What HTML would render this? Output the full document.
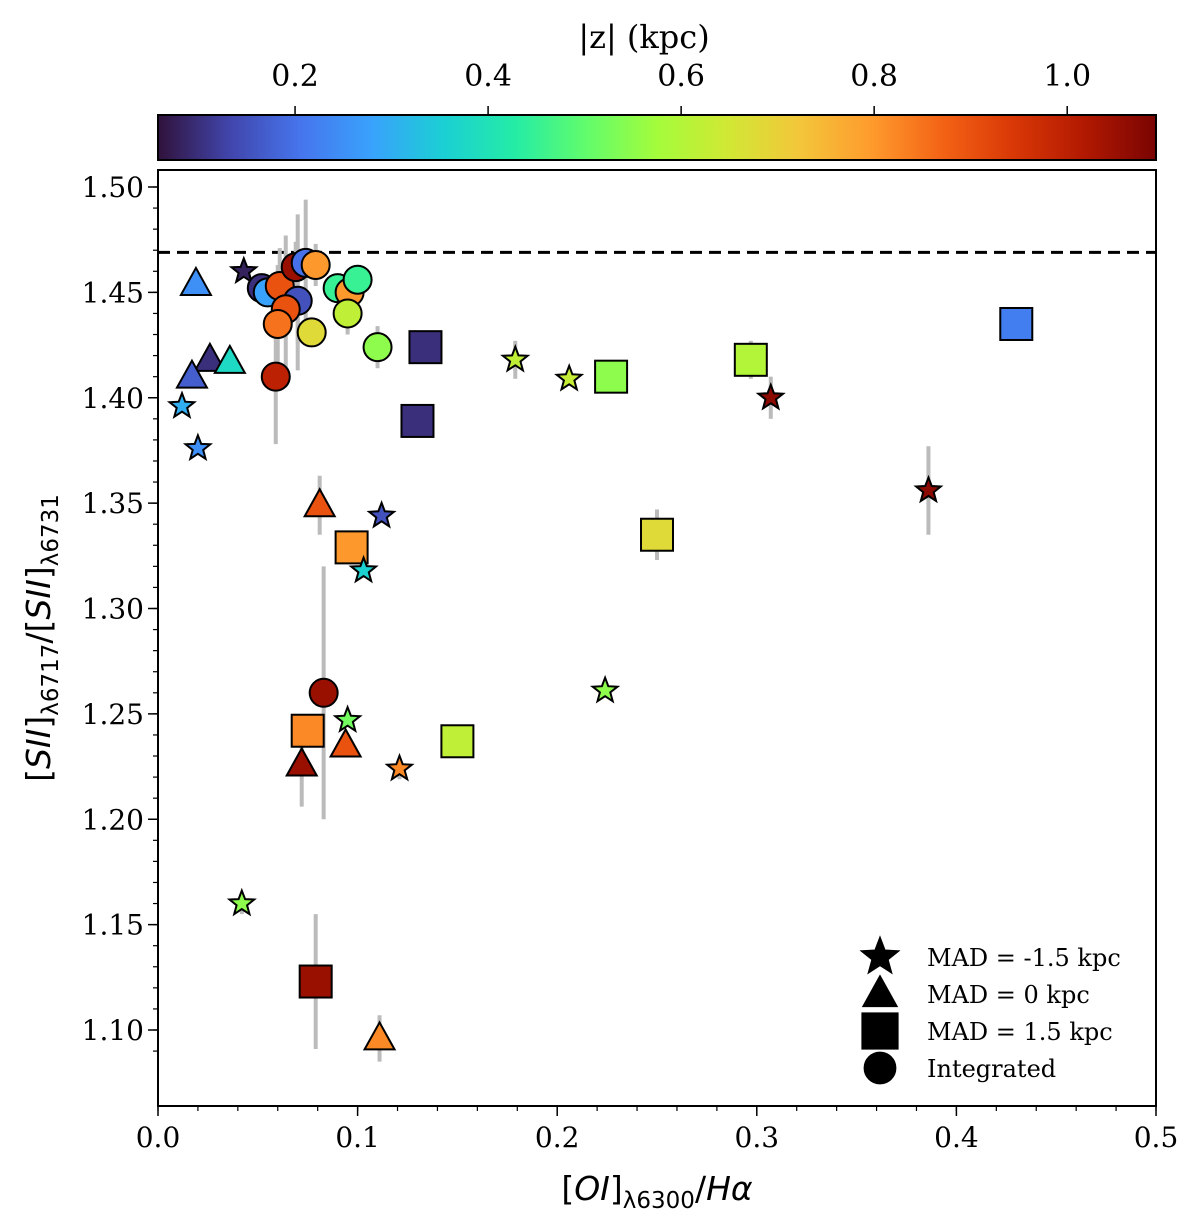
<!DOCTYPE html>
<html><head><meta charset="utf-8"><style>
html,body{margin:0;padding:0;background:#fff}
svg{display:block;font-family:"DejaVu Serif","Liberation Serif",serif}
</style></head><body>
<svg id="chart" width="1200" height="1221" viewBox="0 0 1200 1221" xmlns="http://www.w3.org/2000/svg">
<defs>
<linearGradient id="turbo" x1="0" x2="1" y1="0" y2="0"></linearGradient>
</defs>
<g id="cbar"></g>
<g id="plot"></g>
</svg>
<script>
// ---- data ----
const circX=[0.052,0.055,0.061,0.069,0.074,0.079,0.070,0.064,0.060,0.077,0.090,0.096,0.100,0.095,0.110,0.059,0.083];
const circY=[1.452,1.450,1.453,1.462,1.464,1.463,1.446,1.442,1.435,1.431,1.452,1.450,1.456,1.440,1.424,1.410,1.260];
const circZ=[0.10,0.28,0.90,1.05,0.20,0.80,0.15,0.90,0.85,0.68,0.45,0.80,0.45,0.62,0.55,1.00,1.05];
const circE=[0,0,0.018,0.012,0.03,0.01,0.02,0.035,0.028,0,0,0,0,0.01,0.01,0.032,0.06];
const triX=[0.019,0.026,0.036,0.017,0.081,0.072,0.094,0.111];
const triY=[1.454,1.418,1.417,1.410,1.349,1.226,1.235,1.096];
const triZ=[0.25,0.10,0.38,0.17,0.90,1.05,0.90,0.82];
const triE=[0,0,0,0,0.014,0.02,0,0.011];
const sqX=[0.134,0.130,0.227,0.297,0.430,0.250,0.097,0.075,0.150,0.079];
const sqY=[1.424,1.389,1.410,1.418,1.435,1.335,1.329,1.242,1.237,1.123];
const sqZ=[0.10,0.10,0.55,0.60,0.22,0.68,0.80,0.82,0.62,1.05];
const sqE=[0,0,0,0.009,0,0.012,0,0,0,0.032];
const stX=[0.043,0.012,0.020,0.179,0.206,0.307,0.386,0.112,0.103,0.095,0.121,0.224,0.042];
const stY=[1.460,1.396,1.376,1.418,1.409,1.400,1.356,1.344,1.318,1.247,1.224,1.261,1.160];
const stZ=[0.08,0.30,0.25,0.62,0.63,1.07,1.07,0.15,0.36,0.52,0.82,0.55,0.55];
const stE=[0,0,0,0.009,0,0.01,0.021,0,0,0,0.005,0,0.005];
const extraErrX=[0.070];
const extraErrLo=[1.413]; const extraErrHi=[1.487];
const xTicks=[0.0,0.1,0.2,0.3,0.4,0.5];
const yTicks=[1.10,1.15,1.20,1.25,1.30,1.35,1.40,1.45,1.50];
const zTicks=[0.2,0.4,0.6,0.8,1.0];
const refLine=1.469;
// ---- axes ----
const L=158,R=1156,T=170,B=1106;
const X=v=>L+v/0.5*(R-L);
const Y=v=>187+(1.50-v)/0.40*(1030-187);
const ZMIN=0.058,ZMAX=1.092;
const Zx=z=>L+(z-ZMIN)/(ZMAX-ZMIN)*(R-L);
const turbo=[[48,18,59],[65,69,171],[70,117,237],[57,162,252],[27,207,212],[36,236,166],[97,252,108],[164,252,59],[209,232,52],[243,198,58],[254,155,45],[243,99,21],[217,56,6],[177,25,1],[122,4,2]];
function col(z){let t=(z-ZMIN)/(ZMAX-ZMIN);t=Math.max(0,Math.min(1,t));const p=t*(turbo.length-1);const i=Math.min(Math.floor(p),turbo.length-2);const f=p-i;const c=turbo[i].map((a,k)=>Math.round(a+(turbo[i+1][k]-a)*f));return `rgb(${c})`;}
const NS="http://www.w3.org/2000/svg";
function mk(tag,attrs,parent){const e=document.createElementNS(NS,tag);for(const k in attrs)e.setAttribute(k,attrs[k]);parent.appendChild(e);return e;}
const grad=document.getElementById('turbo');
turbo.forEach((c,i)=>mk('stop',{offset:(i/(turbo.length-1)),'stop-color':`rgb(${c})`},grad));
const cb=document.getElementById('cbar');
const cr=mk('rect',{x:L,y:115,width:R-L,height:45,fill:'url(#turbo)',stroke:'#000','stroke-width':2},cb);


zTicks.forEach(z=>{mk('line',{x1:Zx(z),x2:Zx(z),y1:115,y2:106,stroke:'#000','stroke-width':1.5},cb);
const t=mk('text',{x:Zx(z),y:86,'font-size':30,'text-anchor':'middle'},cb);t.textContent=z.toFixed(1);

});
const ct=mk('text',{x:(L+R)/2-13,y:48,'font-size':32,'text-anchor':'middle'},cb);ct.textContent='|z| (kpc)';


const g=document.getElementById('plot');
for(let v=0;v<=0.5001;v+=0.02){const x=X(v);mk('line',{x1:x,x2:x,y1:B,y2:B+5,stroke:'#000','stroke-width':1.2},g);}
xTicks.forEach(v=>{mk('line',{x1:X(v),x2:X(v),y1:B,y2:B+10,stroke:'#000','stroke-width':1.5},g);
const t=mk('text',{x:X(v),y:B+41,'font-size':28,'text-anchor':'middle'},g);t.textContent=v.toFixed(1);

});
for(let v=1.09;v<=1.505;v+=0.01){const y=Y(v);if(y<T||y>B)continue;mk('line',{x1:L,x2:L-5,y1:y,y2:y,stroke:'#000','stroke-width':1.2},g);}
yTicks.forEach(v=>{mk('line',{x1:L,x2:L-10,y1:Y(v),y2:Y(v),stroke:'#000','stroke-width':1.5},g);
const t=mk('text',{x:L-14,y:Y(v)+10,'font-size':28,'text-anchor':'end'},g);t.textContent=v.toFixed(2);

});
const xl=mk('text',{x:(L+R)/2,y:1200,'font-size':33,'text-anchor':'middle','font-family':'"DejaVu Sans","Liberation Sans",sans-serif'},g);
xl.innerHTML='[<tspan font-style="italic">OI</tspan>]<tspan font-size="23" dy="8">λ6300</tspan><tspan dy="-8">/</tspan><tspan font-style="italic">Hα</tspan>';


const yl=mk('text',{x:0,y:0,'font-size':33,'text-anchor':'middle','transform':`translate(50,${(T+B)/2}) rotate(-90)`,'font-family':'"DejaVu Sans","Liberation Sans",sans-serif'},g);
yl.innerHTML='[<tspan font-style="italic">SII</tspan>]<tspan font-size="23" dy="8">λ6717</tspan><tspan dy="-8">/[</tspan><tspan font-style="italic">SII</tspan>]<tspan font-size="23" dy="8">λ6731</tspan>';


const rl=mk('line',{x1:L,x2:R,y1:Y(refLine),y2:Y(refLine),stroke:'#000','stroke-width':3,'stroke-dasharray':'12,7'},g);


const eg=mk('g',{},g);


function err(xs,ys,es){xs.forEach((x,i)=>{if(es[i]>0)mk('line',{x1:X(x),x2:X(x),y1:Y(ys[i]-es[i]),y2:Y(ys[i]+es[i]),stroke:'#bbb','stroke-width':4},eg);});}
err(circX,circY,circE);err(triX,triY,triE);err(sqX,sqY,sqE);err(stX,stY,stE);
extraErrX.forEach((x,i)=>mk('line',{x1:X(x),x2:X(x),y1:Y(extraErrLo[i]),y2:Y(extraErrHi[i]),stroke:'#bbb','stroke-width':4},eg));
function starPts(cx,cy,ro,ri){let p=[];for(let k=0;k<10;k++){const a=-Math.PI/2+k*Math.PI/5;const r=k%2?ri:ro;p.push((cx+r*Math.cos(a)).toFixed(1)+','+(cy+r*Math.sin(a)).toFixed(1));}return p.join(' ');}
function draw(shape,cx,cy,fill,parent,s){s=s||1;let e;
if(shape==='circle')e=mk('circle',{cx,cy,r:14*s,fill},parent);
else if(shape==='square')e=mk('rect',{x:cx-16*s,y:cy-16*s,width:32*s,height:32*s,fill},parent);
else if(shape==='tri')e=mk('polygon',{points:`${cx},${cy-16*s} ${cx-15*s},${cy+11*s} ${cx+15*s},${cy+11*s}`,fill},parent);
else e=mk('polygon',{points:starPts(cx,cy,13*s,5.5*s),fill},parent);
e.setAttribute('stroke','#000');e.setAttribute('stroke-width',2);return e;}
function series(name,shape,xs,ys,zs){const sg=mk('g',{},g);


xs.forEach((x,i)=>{const e=draw(shape,X(x),Y(ys[i]),col(zs[i]),sg);

});}
series('squares-mad-1.5','square',sqX,sqY,sqZ);
series('triangles-mad-0','tri',triX,triY,triZ);
series('stars-mad-minus-1.5','star',stX,stY,stZ);
series('circles-integrated','circle',circX,circY,circZ);
const lg=mk('g',{},g);


const legS=['star','tri','square','circle'];const legT=['MAD = -1.5 kpc','MAD = 0 kpc','MAD = 1.5 kpc','Integrated'];
legS.forEach((s,i)=>{const y=957+i*37;draw(s,880,y,'#000',lg,s==='star'?1.45:1.1);
const t=mk('text',{x:927,y:y+9,'font-size':24},lg);t.textContent=legT[i];

});
const fr=mk('rect',{x:L,y:T,width:R-L,height:B-T,fill:'none',stroke:'#000','stroke-width':2},g);


</script>
</body></html>
